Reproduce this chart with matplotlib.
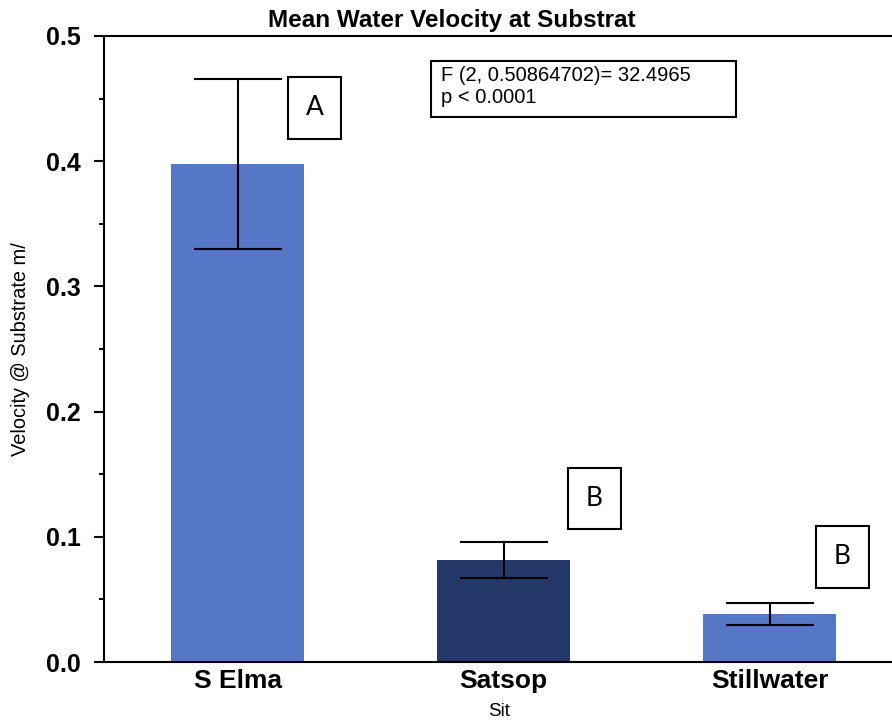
import numpy as np
import matplotlib
matplotlib.use("Agg")
import matplotlib.pyplot as plt
from matplotlib.patches import Rectangle
from matplotlib.ticker import MultipleLocator, FormatStrFormatter

plt.rcParams['font.family'] = ['Liberation Sans', 'DejaVu Sans']

# mean velocity per site and its error
sites = ["S Elma", "Satsop", "Stillwater"]
means = [0.398, 0.0815, 0.0383]
errors = [0.068, 0.0147, 0.009]
bar_colors = ["#5577C6", "#233868", "#5577C6"]

# significance groups (letter, x, y of box centre)
groups = ["A", "B", "B"]
group_x = [0.29, 1.34, 2.274]
group_y = [0.4425, 0.1306, 0.0839]

stat_lines = ["F (2, 0.50864702)= 32.4965", "p < 0.0001"]

fig = plt.figure(figsize=(8.92, 7.22), dpi=100)
ax = fig.add_axes([104 / 892, 60 / 722, 788 / 892, 626 / 722])

x = np.arange(len(sites))
ax.bar(x, means, width=0.5, color=bar_colors, zorder=2)
ax.errorbar(x, means, yerr=errors, fmt="none", ecolor="black",
            elinewidth=1.5, capsize=31.5, capthick=1.5, zorder=3)

# letter boxes
bw, bh = 0.199, 0.0495
for g, gx, gy in zip(groups, group_x, group_y):
    ax.add_patch(Rectangle((gx - bw / 2, gy - bh / 2), bw, bh, fill=False,
                           edgecolor="black", linewidth=1.5, zorder=4))
    ax.text(gx, gy, g, ha="center", va="center", fontsize=19,
            family=["Lato", "DejaVu Sans"], zorder=5)

# statistics box
ax.add_patch(Rectangle((0.415, 0.8706), 0.387, 0.0894, transform=ax.transAxes,
                       fill=False, edgecolor="black", linewidth=1.5, zorder=4))
for line, yb in zip(stat_lines, [0.928, 0.893]):
    ax.text(0.4277, yb, line, transform=ax.transAxes, ha="left",
            va="baseline", fontsize=14.5, zorder=5)

ax.set_xlim(-0.502, 2.46)
ax.set_ylim(0, 0.5)
ax.yaxis.set_major_locator(MultipleLocator(0.1))
ax.yaxis.set_minor_locator(MultipleLocator(0.05))
ax.yaxis.set_major_formatter(FormatStrFormatter("%.1f"))
ax.set_xticks(x)
ax.set_xticklabels(sites)

for side in ["left", "bottom", "top"]:
    ax.spines[side].set_linewidth(1.5)
ax.spines["right"].set_visible(False)

ax.tick_params(axis="y", which="major", length=7, width=1.5, labelsize=18, pad=10)
ax.tick_params(axis="y", which="minor", length=3.5, width=1.5)
ax.tick_params(axis="x", length=0, labelsize=19, pad=5)
for lbl in ax.get_yticklabels() + ax.get_xticklabels():
    lbl.set_fontweight("bold")

ax.set_ylabel("Velocity @ Substrate m/", fontsize=14.4)
ax.yaxis.label.set_va("center")
ax.yaxis.set_label_coords((21 - 104) / 788, 0.5)
ax.set_xlabel("Sit", fontsize=13.5)
ax.xaxis.label.set_va("center")
ax.xaxis.set_label_coords((499 - 104) / 788, -(711 - 662) / 626)

fig.text(452 / 892, 1 - 20 / 722, "Mean Water Velocity at Substrat",
         ha="center", va="center", fontsize=17.5, fontweight="bold")

fig.savefig("out.png", dpi=100)
